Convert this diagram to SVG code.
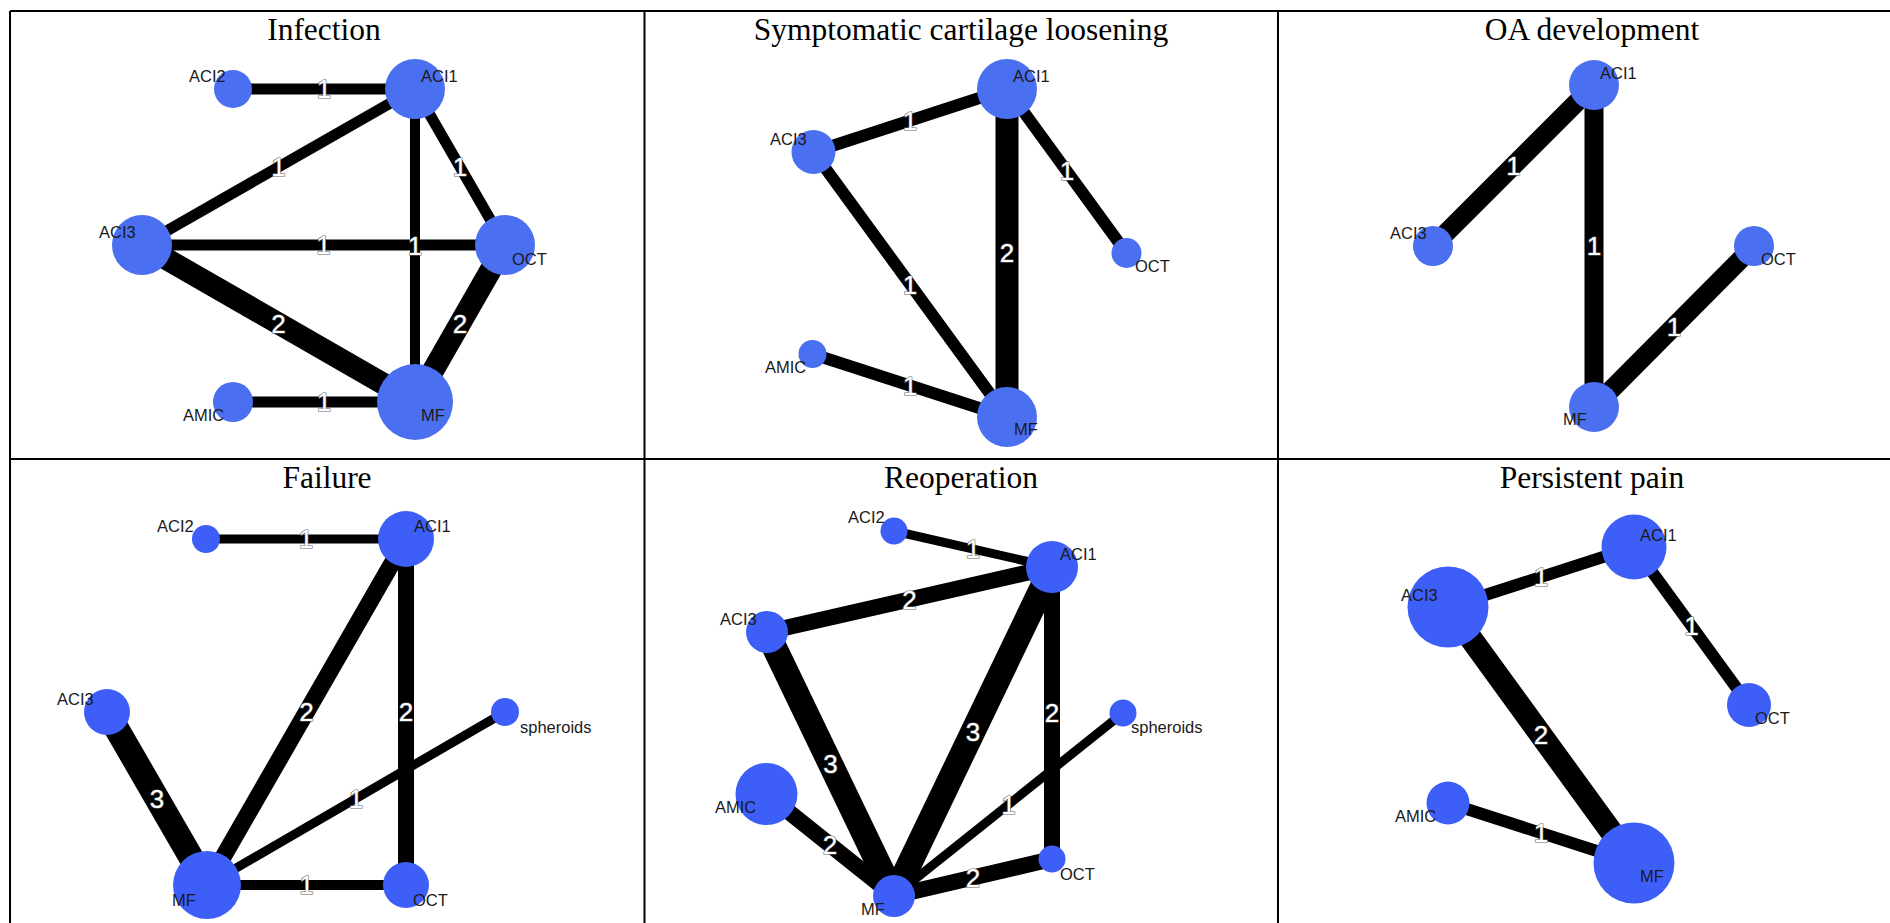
<svg xmlns="http://www.w3.org/2000/svg" width="1890" height="923" viewBox="0 0 1890 923">
<style>
.grid{stroke:#000;stroke-width:2;fill:none}
.title{font-family:"Liberation Serif","Times New Roman",serif;font-size:31.5px;fill:#000;text-anchor:middle}
.e{stroke:#000;stroke-linecap:butt}
.el{font-family:"Liberation Sans",Arial,sans-serif;font-size:26px;fill:#fff;stroke:#666;stroke-width:1.2;paint-order:stroke;text-anchor:middle;dominant-baseline:central}
.t circle{fill:#4a6ff0}
.b circle{fill:#3d5ff7}
.nl{font-family:"Liberation Sans",Arial,sans-serif;font-size:16.5px;fill:#1a1a1a}
</style>
<rect width="1890" height="923" fill="#fff"/>
<g id="table">
<line class="grid" x1="10" y1="11" x2="1890" y2="11"/>
<line class="grid" x1="10" y1="459" x2="1890" y2="459"/>
<line class="grid" x1="10" y1="11" x2="10" y2="923"/>
<line class="grid" x1="644.5" y1="11" x2="644.5" y2="923"/>
<line class="grid" x1="1278" y1="11" x2="1278" y2="923"/>
</g>
<g id="titles">
<text class="title" x="324" y="40">Infection</text>
<text class="title" x="961" y="40">Symptomatic cartilage loosening</text>
<text class="title" x="1592" y="40">OA development</text>
<text class="title" x="327" y="488">Failure</text>
<text class="title" x="961" y="488">Reoperation</text>
<text class="title" x="1592" y="488">Persistent pain</text>
</g>

<!-- Panel 1: Infection -->
<g id="p1-connectors">
<line class="e" stroke-width="11" x1="233" y1="89" x2="415" y2="89"/>
<line class="e" stroke-width="11" x1="415" y1="89" x2="142" y2="245"/>
<line class="e" stroke-width="11" x1="415" y1="89" x2="505" y2="245"/>
<line class="e" stroke-width="10" x1="415" y1="89" x2="415" y2="402"/>
<line class="e" stroke-width="11" x1="142" y1="245" x2="505" y2="245"/>
<line class="e" stroke-width="22" x1="142" y1="245" x2="415" y2="402"/>
<line class="e" stroke-width="22" x1="505" y1="245" x2="415" y2="402"/>
<line class="e" stroke-width="11" x1="233" y1="402" x2="415" y2="402"/>
<text class="el" x="324" y="89">1</text>
<text class="el" x="278.5" y="167">1</text>
<text class="el" x="460" y="167">1</text>
<text class="el" x="415" y="245.5">1</text>
<text class="el" x="323.5" y="245">1</text>
<text class="el" x="278.5" y="323.5">2</text>
<text class="el" x="460" y="323.5">2</text>
<text class="el" x="324" y="402">1</text>
</g>
<g class="t">
<g id="p1-ACI2"><circle cx="233" cy="89" r="19"/><text class="nl" x="189" y="82">ACI2</text></g>
<g id="p1-ACI1"><circle cx="415" cy="89" r="30"/><text class="nl" x="421" y="82">ACI1</text></g>
<g id="p1-ACI3"><circle cx="142" cy="245" r="30"/><text class="nl" x="99" y="238">ACI3</text></g>
<g id="p1-OCT"><circle cx="505" cy="245" r="30"/><text class="nl" x="512" y="265">OCT</text></g>
<g id="p1-AMIC"><circle cx="233" cy="402" r="20"/><text class="nl" x="183" y="421">AMIC</text></g>
<g id="p1-MF"><circle cx="415" cy="402" r="38"/><text class="nl" x="421" y="421">MF</text></g>
</g>

<!-- Panel 2: Symptomatic cartilage loosening -->
<g id="p2-connectors">
<line class="e" stroke-width="12" x1="813.5" y1="152" x2="1007" y2="89"/>
<line class="e" stroke-width="23" x1="1007" y1="89" x2="1007" y2="417"/>
<line class="e" stroke-width="12" x1="1007" y1="89" x2="1126.5" y2="253"/>
<line class="e" stroke-width="12" x1="813.5" y1="152" x2="1007" y2="417"/>
<line class="e" stroke-width="12" x1="812.5" y1="354" x2="1007" y2="417"/>
<text class="el" x="910" y="120.5">1</text>
<text class="el" x="1007" y="253">2</text>
<text class="el" x="1067" y="171">1</text>
<text class="el" x="910" y="284.5">1</text>
<text class="el" x="910" y="385.5">1</text>
</g>
<g class="t">
<g id="p2-ACI1"><circle cx="1007" cy="89" r="30"/><text class="nl" x="1013" y="82">ACI1</text></g>
<g id="p2-ACI3"><circle cx="813.5" cy="152" r="22"/><text class="nl" x="770" y="145">ACI3</text></g>
<g id="p2-OCT"><circle cx="1126.5" cy="253" r="15"/><text class="nl" x="1135" y="272">OCT</text></g>
<g id="p2-AMIC"><circle cx="812.5" cy="354" r="14"/><text class="nl" x="765" y="373">AMIC</text></g>
<g id="p2-MF"><circle cx="1007" cy="417" r="30"/><text class="nl" x="1014" y="435">MF</text></g>
</g>

<!-- Panel 3: OA development -->
<g id="p3-connectors">
<line class="e" stroke-width="19" x1="1433" y1="246" x2="1594" y2="85"/>
<line class="e" stroke-width="19" x1="1594" y1="85" x2="1594" y2="407"/>
<line class="e" stroke-width="19" x1="1594" y1="407" x2="1754" y2="246"/>
<text class="el" x="1513.5" y="165.5">1</text>
<text class="el" x="1594" y="246">1</text>
<text class="el" x="1674" y="326.5">1</text>
</g>
<g class="t">
<g id="p3-ACI1"><circle cx="1594" cy="85" r="25"/><text class="nl" x="1600" y="79">ACI1</text></g>
<g id="p3-ACI3"><circle cx="1433" cy="246" r="20"/><text class="nl" x="1390" y="239">ACI3</text></g>
<g id="p3-OCT"><circle cx="1754" cy="246" r="20"/><text class="nl" x="1761" y="265">OCT</text></g>
<g id="p3-MF"><circle cx="1594" cy="407" r="25"/><text class="nl" x="1563" y="425">MF</text></g>
</g>

<!-- Panel 4: Failure -->
<g id="p4-connectors">
<line class="e" stroke-width="9" x1="206" y1="539" x2="406" y2="539"/>
<line class="e" stroke-width="17" x1="406" y1="539" x2="207" y2="885"/>
<line class="e" stroke-width="16" x1="406" y1="539" x2="406" y2="885"/>
<line class="e" stroke-width="25" x1="107" y1="712" x2="207" y2="885"/>
<line class="e" stroke-width="9" x1="505" y1="712" x2="207" y2="885"/>
<line class="e" stroke-width="10" x1="207" y1="885" x2="406" y2="885"/>
<text class="el" x="306" y="539">1</text>
<text class="el" x="306.5" y="712">2</text>
<text class="el" x="406" y="712">2</text>
<text class="el" x="157" y="798.5">3</text>
<text class="el" x="356" y="798.5">1</text>
<text class="el" x="306.5" y="885">1</text>
</g>
<g class="b">
<g id="p4-ACI2"><circle cx="206" cy="539" r="14"/><text class="nl" x="157" y="532">ACI2</text></g>
<g id="p4-ACI1"><circle cx="406" cy="539" r="28"/><text class="nl" x="414" y="532">ACI1</text></g>
<g id="p4-ACI3"><circle cx="107" cy="712" r="23"/><text class="nl" x="57" y="705">ACI3</text></g>
<g id="p4-spheroids"><circle cx="505" cy="712" r="14"/><text class="nl" x="520" y="733">spheroids</text></g>
<g id="p4-MF"><circle cx="207" cy="885" r="34"/><text class="nl" x="172" y="906">MF</text></g>
<g id="p4-OCT"><circle cx="406" cy="885" r="23"/><text class="nl" x="413" y="906">OCT</text></g>
</g>

<!-- Panel 5: Reoperation -->
<g id="p5-connectors">
<line class="e" stroke-width="9" x1="894" y1="531" x2="1052" y2="567"/>
<line class="e" stroke-width="16" x1="767" y1="632" x2="1052" y2="567"/>
<line class="e" stroke-width="25" x1="1052" y1="567" x2="894" y2="896"/>
<line class="e" stroke-width="25" x1="767" y1="632" x2="894" y2="896"/>
<line class="e" stroke-width="16" x1="1052" y1="567" x2="1052" y2="859"/>
<line class="e" stroke-width="9" x1="1123" y1="713" x2="894" y2="896"/>
<line class="e" stroke-width="16" x1="766.5" y1="794" x2="894" y2="896"/>
<line class="e" stroke-width="16" x1="894" y1="896" x2="1052" y2="859"/>
<text class="el" x="973" y="549">1</text>
<text class="el" x="909.5" y="599.5">2</text>
<text class="el" x="973" y="731.5">3</text>
<text class="el" x="830.5" y="764">3</text>
<text class="el" x="1052" y="713">2</text>
<text class="el" x="1008.5" y="804.5">1</text>
<text class="el" x="830" y="845">2</text>
<text class="el" x="973" y="877.5">2</text>
</g>
<g class="b">
<g id="p5-ACI2"><circle cx="894" cy="531" r="13.5"/><text class="nl" x="848" y="523">ACI2</text></g>
<g id="p5-ACI1"><circle cx="1052" cy="567" r="26"/><text class="nl" x="1060" y="560">ACI1</text></g>
<g id="p5-ACI3"><circle cx="767" cy="632" r="21"/><text class="nl" x="720" y="625">ACI3</text></g>
<g id="p5-spheroids"><circle cx="1123" cy="713" r="13.5"/><text class="nl" x="1131" y="733">spheroids</text></g>
<g id="p5-AMIC"><circle cx="766.5" cy="794" r="31"/><text class="nl" x="715" y="813">AMIC</text></g>
<g id="p5-OCT"><circle cx="1052" cy="859" r="13.5"/><text class="nl" x="1060" y="880">OCT</text></g>
<g id="p5-MF"><circle cx="894" cy="896" r="21"/><text class="nl" x="861" y="915">MF</text></g>
</g>

<!-- Panel 6: Persistent pain -->
<g id="p6-connectors">
<line class="e" stroke-width="12" x1="1448" y1="607" x2="1634" y2="547"/>
<line class="e" stroke-width="12" x1="1634" y1="547" x2="1749" y2="705"/>
<line class="e" stroke-width="23" x1="1448" y1="607" x2="1634" y2="863"/>
<line class="e" stroke-width="12" x1="1448" y1="803" x2="1634" y2="863"/>
<text class="el" x="1541" y="577">1</text>
<text class="el" x="1691.5" y="626">1</text>
<text class="el" x="1541" y="735">2</text>
<text class="el" x="1541" y="833">1</text>
</g>
<g class="b">
<g id="p6-ACI1"><circle cx="1634" cy="547" r="32.5"/><text class="nl" x="1640" y="541">ACI1</text></g>
<g id="p6-ACI3"><circle cx="1448" cy="607" r="40.5"/><text class="nl" x="1401" y="601">ACI3</text></g>
<g id="p6-OCT"><circle cx="1749" cy="705" r="22"/><text class="nl" x="1755" y="724">OCT</text></g>
<g id="p6-AMIC"><circle cx="1448" cy="803" r="21.5"/><text class="nl" x="1395" y="822">AMIC</text></g>
<g id="p6-MF"><circle cx="1634" cy="863" r="40.5"/><text class="nl" x="1640" y="882">MF</text></g>
</g>
</svg>
